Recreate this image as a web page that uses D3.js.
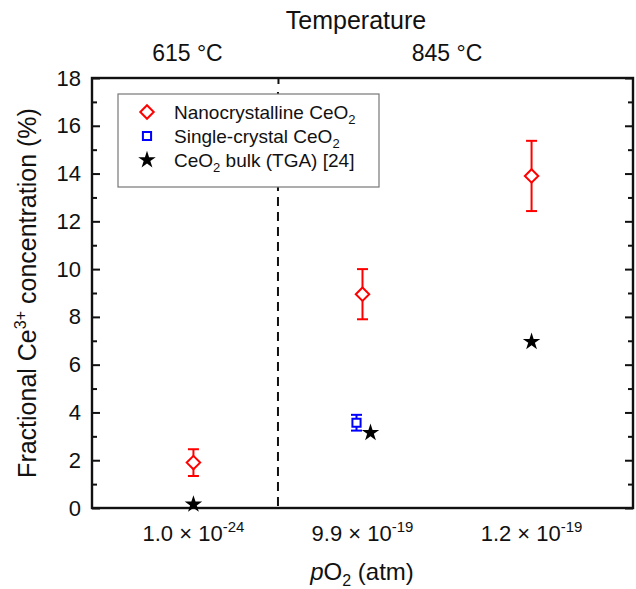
<!DOCTYPE html>
<html>
<head>
<meta charset="utf-8">
<script src="https://cdn.jsdelivr.net/npm/d3@7"></script>
<style>
  body { margin: 0; background: #fff; }
  svg { font-family: "Liberation Sans", Arial, sans-serif; }
</style>
</head>
<body>
<div class="chart"></div>
<script>
// categories (pO2) and their exponents
var pO2Labels = ['1.0 \u00d7 10', '9.9 \u00d7 10', '1.2 \u00d7 10'];
var pO2Exps = ['-24', '-19', '-19'];
var temps = ['615 \u00b0C', '845 \u00b0C'];

// nanocrystalline CeO2 (value, error)
var nanoCat = [1, 2, 3];
var nanoVal = [1.9, 8.95, 13.9];
var nanoErr = [0.56, 1.05, 1.47];

// single-crystal CeO2
var singleCat = [2];
var singleVal = [3.57];
var singleErr = [0.33];

// bulk TGA
var bulkCat = [1, 2, 3];
var bulkVal = [0.15, 3.15, 6.96];

var yTicks = [0, 2, 4, 6, 8, 10, 12, 14, 16, 18];

var width = 636, height = 589;
var pl = 92, pr = 633, pt = 78, pb = 508;

var svg = d3.select('.chart').append('svg').attr('width', width).attr('height', height);

var x = d3.scaleLinear().domain([0.4, 3.6]).range([pl, pr]);
var y = d3.scaleLinear().domain([0, 18]).range([pb, pt]);

// left axis, major + minor
var gl = svg.append('g').attr('transform', 'translate(' + pl + ',0)')
  .call(d3.axisLeft(y).tickValues(yTicks).tickSizeInner(-8).tickSizeOuter(0).tickPadding(11));
gl.selectAll('text').style('font-size', '22px').attr('fill', '#111');
svg.append('g').attr('transform', 'translate(' + pl + ',0)')
  .call(d3.axisLeft(y).tickValues(d3.range(1, 18, 2)).tickSizeInner(-5).tickSizeOuter(0).tickFormat(''));

// right axis
svg.append('g').attr('transform', 'translate(' + pr + ',0)')
  .call(d3.axisRight(y).tickValues(yTicks).tickSizeInner(-8).tickSizeOuter(0).tickFormat(''));
svg.append('g').attr('transform', 'translate(' + pr + ',0)')
  .call(d3.axisRight(y).tickValues(d3.range(1, 18, 2)).tickSizeInner(-5).tickSizeOuter(0).tickFormat(''));

// top tick at the divider
svg.append('g').attr('transform', 'translate(0,' + pt + ')')
  .call(d3.axisTop(x).tickValues([1.5]).tickSizeInner(-6).tickSizeOuter(0).tickFormat(''));

svg.selectAll('.domain').remove();
svg.selectAll('.tick line').attr('stroke', '#111').attr('stroke-width', 2);

// frame
svg.append('rect').attr('x', pl).attr('y', pt)
  .attr('width', pr - pl).attr('height', pb - pt)
  .attr('fill', 'none').attr('stroke', '#111').attr('stroke-width', 2.4);

// dashed divider
svg.append('line').attr('x1', x(1.5)).attr('x2', x(1.5)).attr('y1', y(18) + 14).attr('y2', y(0))
  .attr('stroke', '#111').attr('stroke-width', 2).attr('stroke-dasharray', '9,6');

// bottom category labels
var bl = svg.selectAll('.cat').data(pO2Labels).enter().append('text')
  .attr('class', 'cat')
  .attr('x', function(d, i) { return x(i + 1); })
  .attr('y', 541)
  .attr('text-anchor', 'middle')
  .style('font-size', '22px').attr('fill', '#111');
bl.append('tspan').text(function(d) { return d; });
bl.append('tspan').attr('dy', -9).style('font-size', '15px').text(function(d, i) { return pO2Exps[i]; });

// temperatures
svg.selectAll('.temp').data(temps).enter().append('text')
  .attr('x', function(d, i) { return i == 0 ? x(1) - 6 : x(2.5); })
  .attr('y', 61)
  .attr('text-anchor', 'middle')
  .style('font-size', '23px').attr('fill', '#111')
  .text(function(d) { return d; });

svg.append('text').attr('x', 356).attr('y', 29).attr('text-anchor', 'middle')
  .style('font-size', '25px').attr('fill', '#111').text('Temperature');

// x title
var xt = svg.append('text').attr('x', 362).attr('y', 580).attr('text-anchor', 'middle')
  .style('font-size', '24px').attr('fill', '#111');
xt.append('tspan').style('font-style', 'italic').text('p');
xt.append('tspan').text('O');
xt.append('tspan').attr('dy', 6).style('font-size', '16px').text('2');
xt.append('tspan').attr('dy', -6).text(' (atm)');

// y title
var yt = svg.append('text').attr('transform', 'translate(36,' + ((pt + pb) / 2) + ') rotate(-90)')
  .attr('text-anchor', 'middle').style('font-size', '25px').attr('fill', '#111');
yt.append('tspan').text('Fractional Ce');
yt.append('tspan').attr('dy', -10).style('font-size', '16px').text('3+');
yt.append('tspan').attr('dy', 10).text(' concentration (%)');

// error bars helper
function errorBars(cats, vals, errs, dx, color) {
  var g = svg.append('g').attr('stroke', color).attr('stroke-width', 2);
  cats.forEach(function(c, i) {
    var cx = x(c) + dx;
    var ylo = y(vals[i] - errs[i]), yhi = y(vals[i] + errs[i]);
    g.append('line').attr('x1', cx).attr('x2', cx).attr('y1', ylo).attr('y2', yhi);
    g.append('line').attr('x1', cx - 5.5).attr('x2', cx + 5.5).attr('y1', ylo).attr('y2', ylo);
    g.append('line').attr('x1', cx - 5.5).attr('x2', cx + 5.5).attr('y1', yhi).attr('y2', yhi);
  });
}

errorBars(nanoCat, nanoVal, nanoErr, 0, '#ff0000');
errorBars(singleCat, singleVal, singleErr, -6, '#0000ff');

var diamond = d3.symbol().type(d3.symbolDiamond2).size(115);
var square = d3.symbol().type(d3.symbolSquare2).size(85);
var star = d3.symbol().type(d3.symbolStar).size(95);

svg.selectAll('.nano').data(nanoVal).enter().append('path')
  .attr('d', diamond)
  .attr('transform', function(d, i) { return 'translate(' + x(nanoCat[i]) + ',' + y(d) + ')'; })
  .attr('fill', '#fff').attr('stroke', '#ff0000').attr('stroke-width', 2);

svg.selectAll('.single').data(singleVal).enter().append('path')
  .attr('d', square)
  .attr('transform', function(d, i) { return 'translate(' + (x(singleCat[i]) - 6) + ',' + y(d) + ')'; })
  .attr('fill', '#fff').attr('stroke', '#0000ff').attr('stroke-width', 2);

svg.selectAll('.bulk').data(bulkVal).enter().append('path')
  .attr('d', star)
  .attr('transform', function(d, i) {
    var dx = bulkCat[i] == 2 ? 8 : 0;
    return 'translate(' + (x(bulkCat[i]) + dx) + ',' + y(d) + ')';
  })
  .attr('fill', '#000');

// legend
var lg = svg.append('g');
lg.append('rect').attr('x', 118).attr('y', 94).attr('width', 261).attr('height', 93)
  .attr('fill', '#fff').attr('stroke', '#777').attr('stroke-width', 1.2);
var legendItems = ['Nanocrystalline CeO', 'Single-crystal CeO', 'CeO'];
var legendTails = ['', '', ' bulk (TGA) [24]'];
legendItems.forEach(function(t, i) {
  var ly = 112 + i * 24;
  var sym = i == 0 ? diamond : i == 1 ? square : star;
  var p = lg.append('path').attr('d', sym).attr('transform', 'translate(147,' + ly + ')');
  if (i == 0) p.attr('fill', '#fff').attr('stroke', '#ff0000').attr('stroke-width', 2);
  if (i == 1) p.attr('fill', '#fff').attr('stroke', '#0000ff').attr('stroke-width', 2);
  if (i == 2) p.attr('fill', '#000');
  var tx = lg.append('text').attr('x', 174).attr('y', ly + 7).style('font-size', '19px').attr('fill', '#111');
  tx.append('tspan').text(t);
  tx.append('tspan').attr('dy', 5).style('font-size', '13px').text('2');
  if (legendTails[i]) tx.append('tspan').attr('dy', -5).text(legendTails[i]);
});
</script>
</body>
</html>
